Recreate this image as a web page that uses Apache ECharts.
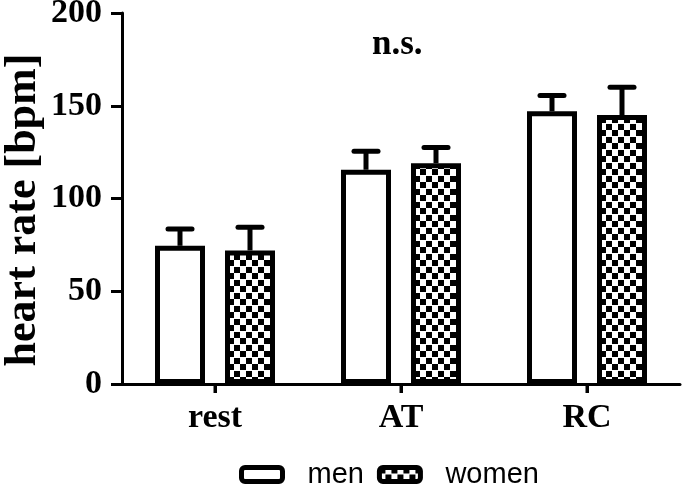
<!DOCTYPE html>
<html>
<head>
<meta charset="utf-8">
<script src="https://cdn.jsdelivr.net/npm/echarts@6/dist/echarts.min.js"></script>
<style>
html,body{margin:0;padding:0;background:#fff;}
#chart{width:685px;height:493px;}
</style>
</head>
<body>
<div id="chart"></div>
<script>
const categories = ['rest', 'AT', 'RC'];
const menMean = [74.5, 115.5, 147];
const menErr = [9, 10, 8.5];
const womenMean = [72, 119, 145];
const womenErr = [12.5, 8.5, 15];
const yTicks = [0, 50, 100, 150, 200];
const yName = 'heart rate [bpm]';

const serif = '"Liberation Serif", "Times New Roman", serif';
const sans = '"Liberation Sans", Arial, sans-serif';

// checkerboard pattern
const tile = document.createElement('canvas');
tile.width = 12; tile.height = 13;
const tc = tile.getContext('2d');
tc.fillStyle = '#fff'; tc.fillRect(0, 0, 12, 13);
tc.fillStyle = '#000';
tc.fillRect(0, 0, 6, 6);
tc.fillRect(6, 7, 6, 6);

const BAR_W = 50;
const OFF = 35;

function errData(mean, err) {
  return mean.map((m, i) => [i, m, m + err[i]]);
}
function errRender(offset) {
  return function (params, api) {
    const base = api.coord([api.value(0), api.value(1)]);
    const top = api.coord([api.value(0), api.value(2)]);
    const x = base[0] + offset;
    return {
      type: 'group',
      children: [
        { type: 'line', shape: { x1: x, y1: base[1], x2: x, y2: top[1] },
          style: { stroke: '#000', lineWidth: 5 } },
        { type: 'line', shape: { x1: x - 12, y1: top[1], x2: x + 12, y2: top[1] },
          style: { stroke: '#000', lineWidth: 5, lineCap: 'round' } }
      ]
    };
  };
}
// category tick marks under the x axis, placed through the category scale
function tickRender(params, api) {
  const p = api.coord([api.value(0), api.value(1)]);
  return { type: 'line', shape: { x1: p[0], y1: p[1], x2: p[0], y2: p[1] + 9 },
           style: { stroke: '#000', lineWidth: 3 } };
}

const chart = echarts.init(document.getElementById('chart'), null, { renderer: 'canvas' });
chart.setOption({
  animation: false,
  backgroundColor: '#fff',
  title: {
    text: 'n.s.',
    left: 367, top: 22,
    textStyle: { fontFamily: serif, fontWeight: 'bold', fontSize: 35, color: '#000' }
  },
  graphic: [{
    type: 'text', x: 24, y: 210, rotation: Math.PI / 2,
    style: { text: yName, fontFamily: serif, fontWeight: 'bold', fontSize: 44, fill: '#000',
             align: 'center', verticalAlign: 'middle' }
  }],
  grid: { left: 122, right: 5, top: 13, bottom: 109, outerBoundsMode: 'none', containLabel: false },
  legend: {
    data: ['men', 'women'],
    left: 234, top: 455,
    itemWidth: 41, itemHeight: 14, itemGap: 13,
    icon: 'roundRect',
    itemStyle: { borderColor: '#000', borderWidth: 5 },
    textStyle: { fontFamily: sans, fontSize: 29, color: '#000', padding: [0, 0, 0, 20] }
  },
  xAxis: {
    type: 'category',
    data: categories,
    axisLine: { show: true, lineStyle: { color: '#000', width: 3 } },
    axisTick: { show: true, alignWithLabel: true, length: 9, lineStyle: { color: '#000', width: 3 } },
    axisLabel: { fontFamily: serif, fontWeight: 'bold', fontSize: 34, color: '#000', margin: 17 }
  },
  yAxis: {
    type: 'value',
    min: yTicks[0], max: yTicks[yTicks.length - 1], interval: 50,
    axisLine: { show: true, lineStyle: { color: '#000', width: 3 } },
    axisTick: { show: true, length: 11, lineStyle: { color: '#000', width: 3 } },
    splitLine: { show: false },
    axisLabel: { fontFamily: serif, fontWeight: 'bold', fontSize: 34, color: '#000', margin: 20 }
  },
  series: [
    {
      name: 'men', type: 'bar', data: menMean,
      barWidth: BAR_W, barGap: '40%',
      itemStyle: { color: '#fff', borderColor: '#000', borderWidth: 5 }
    },
    {
      name: 'women', type: 'bar', data: womenMean,
      barWidth: BAR_W, barGap: '40%',
      itemStyle: { color: { image: tile, repeat: 'repeat' }, borderColor: '#000', borderWidth: 5 }
    },
    {
      name: 'menErr', type: 'custom', data: errData(menMean, menErr),
      renderItem: errRender(-OFF), z: 5
    },
    {
      name: 'womenErr', type: 'custom', data: errData(womenMean, womenErr),
      renderItem: errRender(OFF), z: 5
    },
    {
      name: 'catTicks', type: 'custom', clip: false, silent: true,
      data: categories.map((c, i) => [i, yTicks[0]]),
      renderItem: tickRender, z: 6
    }
  ]
});
</script>
</body>
</html>
